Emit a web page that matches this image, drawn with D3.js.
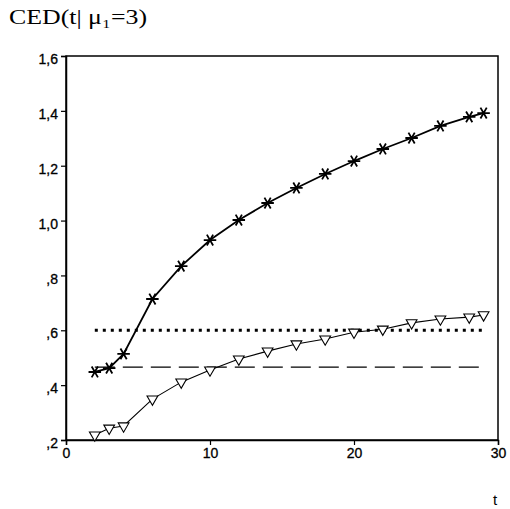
<!DOCTYPE html>
<html>
  <head>
    <meta charset="utf-8">
    <title>CED chart</title>
    <script src="https://cdnjs.cloudflare.com/ajax/libs/d3/7.8.5/d3.min.js" charset="utf-8"></script>
    <style>
      body { margin: 0; background: #fff; }
    </style>
  </head>
  <body>
    <div id="chart"></div>
    <script>

var tValues = [2, 3, 4, 6, 8, 10, 12, 14, 16, 18, 20, 22, 24, 26, 28, 29];
var starSeries = [0.448, 0.462, 0.514, 0.714, 0.834, 0.929, 1.002, 1.064, 1.119, 1.17, 1.217, 1.261, 1.301, 1.345, 1.378, 1.392];
var triSeries = [0.218, 0.243, 0.251, 0.349, 0.411, 0.455, 0.495, 0.524, 0.55, 0.568, 0.593, 0.604, 0.627, 0.641, 0.648, 0.656];
var dottedLevel = 0.6;
var dashedLevel = 0.466;
var xTicks = [0, 10, 20, 30];
var yTicks = [0.2, 0.4, 0.6, 0.8, 1.0, 1.2, 1.4, 1.6];

var svg = d3.select("#chart").append("svg")
    .attr("width", 510)
    .attr("height", 509);

var x = d3.scaleLinear().domain([0, 30]).range([66, 498]);
var y = d3.scaleLinear().domain([0.2, 1.6]).range([440, 56]);

// commas as decimal mark, no leading zero
function yFmt(v) {
    var s = v.toFixed(1).replace(".", ",");
    if (s.indexOf("0,") === 0) s = s.slice(1);
    return s;
}

svg.append("text")
    .attr("x", 9)
    .attr("y", 24)
    .attr("textLength", 138)
    .attr("lengthAdjust", "spacingAndGlyphs")
    .style("font-family", "'Liberation Serif', 'DejaVu Serif', serif")
    .style("font-size", "22px")
    .text("CED(t| μ\u2081=3)");

// frame
svg.append("rect")
    .attr("x", x(0)).attr("y", y(1.6))
    .attr("width", x(30) - x(0)).attr("height", y(0.2) - y(1.6))
    .attr("fill", "none").attr("stroke", "#000").attr("stroke-width", 1.5);

var yAxis = svg.append("g")
    .attr("transform", "translate(" + x(0) + ",0)")
    .call(d3.axisLeft(y).tickValues(yTicks).tickFormat(yFmt).tickSize(5).tickPadding(3));

var xAxis = svg.append("g")
    .attr("transform", "translate(0," + y(0.2) + ")")
    .call(d3.axisBottom(x).tickValues(xTicks).tickSize(5).tickPadding(3));

[yAxis, xAxis].forEach(function(g) {
    g.select(".domain").attr("stroke-width", 1.5);
    g.selectAll("line").attr("stroke-width", 1.2);
    g.selectAll("text")
        .style("font-family", "'Liberation Sans', Arial, sans-serif")
        .style("font-size", "14px")
        .attr("fill", "#000")
        .attr("stroke", "#000")
        .attr("stroke-width", 0.3);
});
yAxis.selectAll("text").attr("dy", "0.55em");

svg.append("text")
    .attr("x", 495)
    .attr("y", 505)
    .attr("text-anchor", "middle")
    .style("font-family", "'Liberation Sans', Arial, sans-serif")
    .style("font-size", "15px")
    .text("t");

// horizontal reference lines
svg.append("line")
    .attr("x1", x(2)).attr("x2", x(29))
    .attr("y1", y(dottedLevel)).attr("y2", y(dottedLevel))
    .attr("stroke", "#000").attr("stroke-width", 3)
    .attr("stroke-dasharray", "3,5");

svg.append("line")
    .attr("x1", x(2)).attr("x2", x(29))
    .attr("y1", y(dashedLevel)).attr("y2", y(dashedLevel))
    .attr("stroke", "#000").attr("stroke-width", 1.3)
    .attr("stroke-dasharray", "20,8");

var line = d3.line()
    .x(function(d) { return x(d[0]); })
    .y(function(d) { return y(d[1]); });

var triData = tValues.map(function(t, i) { return [t, triSeries[i]]; });
var starData = tValues.map(function(t, i) { return [t, starSeries[i]]; });

svg.append("path")
    .datum(triData)
    .attr("d", line)
    .attr("fill", "none").attr("stroke", "#000").attr("stroke-width", 1.1);

svg.append("path")
    .datum(starData)
    .attr("d", line)
    .attr("fill", "none").attr("stroke", "#000").attr("stroke-width", 1.8);

svg.selectAll(".tri")
    .data(triData)
    .enter().append("path")
    .attr("class", "tri")
    .attr("d", d3.symbol().type(d3.symbolTriangle).size(50))
    .attr("transform", function(d) { return "translate(" + x(d[0]) + "," + y(d[1]) + ") rotate(180)"; })
    .attr("fill", "#fff").attr("stroke", "#000").attr("stroke-width", 1.1);

svg.selectAll(".star")
    .data(starData)
    .enter().append("path")
    .attr("class", "star")
    .attr("d", d3.symbol().type(d3.symbolAsterisk).size(110))
    .attr("transform", function(d) { return "translate(" + x(d[0]) + "," + y(d[1]) + ") rotate(90)"; })
    .attr("fill", "none").attr("stroke", "#000").attr("stroke-width", 1.8);

    </script>
  </body>
</html>
